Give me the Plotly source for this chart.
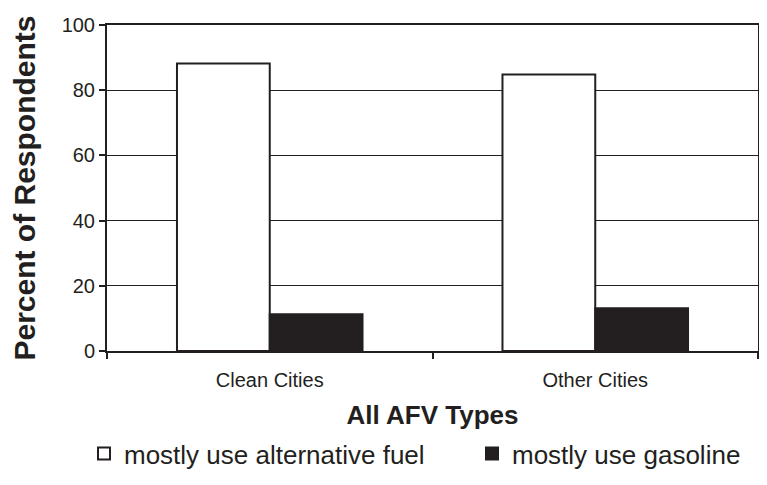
import plotly.graph_objects as go

cities = ["Clean Cities", "Other Cities"]
alt_fuel = [88.2, 84.8]
gasoline = [11.3, 13.1]

fig = go.Figure()
fig.add_trace(go.Bar(x=cities, y=alt_fuel, name="mostly use alternative fuel", legend="legend",
                     marker=dict(color="white", line=dict(color="#231f20", width=2))))
fig.add_trace(go.Bar(x=cities, y=gasoline, name="mostly use gasoline", legend="legend2",
                     marker=dict(color="#231f20", line=dict(color="#231f20", width=2))))

# the page body has an 8px margin, so the figure is 16px smaller than the window
W, H = 751, 469
leg = dict(orientation="h", xref="container", xanchor="left",
           yref="container", y=0, yanchor="bottom",
           font=dict(size=26), itemwidth=30)

fig.update_layout(
    width=W, height=H,
    margin=dict(l=99, r=1, t=17, b=126),
    paper_bgcolor="white", plot_bgcolor="white",
    font=dict(family="Liberation Sans, Arial", color="#231f20"),
    barmode="group", bargap=0.43, bargroupgap=0,
    showlegend=True,
    legend=dict(leg, x=76 / W),
    legend2=dict(leg, x=464 / W),
)
fig.update_yaxes(
    range=[0, 100], dtick=20, showgrid=True, gridcolor="#231f20", gridwidth=1,
    showline=True, linecolor="#231f20", linewidth=2, mirror=True,
    ticks="outside", ticklen=6, tickcolor="#231f20", tickwidth=2,
    tickfont=dict(size=20), automargin=False,
    title=dict(text="<b>Percent of Respondents</b>", font=dict(size=30), standoff=20),
    zeroline=False,
)
fig.update_xaxes(
    showline=True, linecolor="#231f20", linewidth=2, mirror=True,
    ticks="outside", tickson="boundaries", ticklen=6, tickcolor="#231f20", tickwidth=2,
    tickfont=dict(size=20), ticklabelstandoff=10, automargin=False,
    title=dict(text="<b>All AFV Types</b>", font=dict(size=26), standoff=25),
)

fig.write_html("out.html")
